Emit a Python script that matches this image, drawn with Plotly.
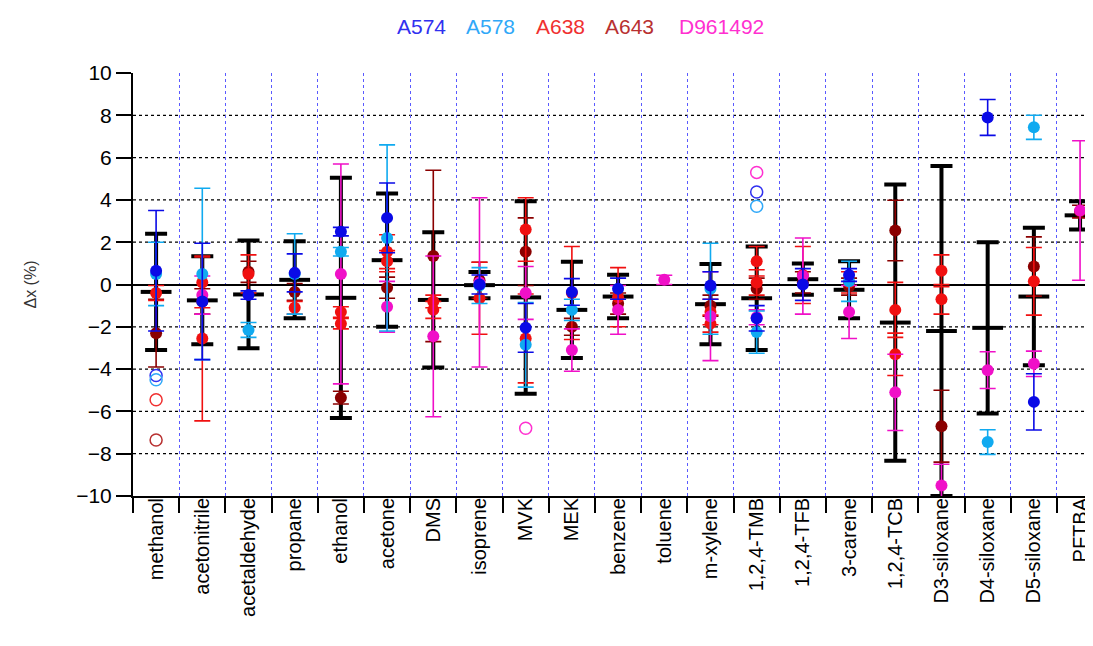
import plotly.graph_objects as go

categories = ["methanol", "acetonitrile", "acetaldehyde", "propane", "ethanol", "acetone",
              "DMS", "isoprene", "MVK", "MEK", "benzene", "toluene", "m-xylene",
              "1,2,4-TMB", "1,2,4-TFB", "3-carene", "1,2,4-TCB", "D3-siloxane",
              "D4-siloxane", "D5-siloxane", "PFTBA"]

N = None
a574_val = [0.65, -0.8, -0.5, 0.55, 2.5, 3.15, N, 0.0, -2.05, -0.35, -0.2, N, -0.05, -1.6, 0.0, 0.45, N, N, 7.9, -5.55, N]
a574_err = [2.85, 2.75, 0.2, 0.9, 0.2, 1.65, N, 0.45, 1.15, 0.63, 0.5, N, 0.65, 0.6, 0.75, 0.3, N, N, 0.85, 1.33, N]

a578_val = [0.5, 0.5, -2.15, 0.5, 1.55, 2.2, N, -0.05, -2.85, -1.2, N, N, -0.2, -2.25, N, 0.15, N, N, -7.45, 7.43, N]
a578_err = [1.5, 4.05, 0.35, 1.9, 0.2, 4.4, N, 0.85, 2.0, 0.5, N, N, 2.15, 1.0, N, 0.95, N, N, 0.58, 0.57, N]

a638_val = [-0.4, -2.55, 0.5, -1.1, -1.3, 1.55, -1.2, -0.65, 2.6, -0.4, -0.6, N, -1.3, 1.1, 0.45, 0.1, -1.2, 0.65, N, 0.15, N]
a638_err = [0.35, 3.9, 0.9, 0.3, 0.25, 0.8, 0.4, 1.7, 1.5, 2.2, 1.4, N, 0.6, 0.7, 1.35, 0.5, 1.3, 0.75, N, 1.6, N]
a638_val2 = [N, 0.1, N, N, -1.85, 1.1, -0.8, N, -2.55, N, N, N, -1.85, 0.1, N, N, -3.3, -0.7, N, N, N]
a638_err2 = [N, 1.2, N, N, 0.25, 0.5, 0.3, N, 2.1, N, N, N, 0.4, 0.6, N, N, 1.0, 0.7, N, N, N]

a643_val = [-2.3, -0.8, 0.6, -0.35, -5.35, -0.15, 1.35, 0.2, 1.55, -2.0, -0.9, N, -1.0, -0.2, 0.1, -0.1, 2.55, -6.7, N, 0.85, 3.45]
a643_err = [1.6, 0.6, 0.5, 0.4, 0.3, 0.5, 4.05, 0.85, 1.6, 0.4, 0.5, N, 0.5, 0.5, 0.5, 0.4, 1.43, 1.7, N, 1.4, 0.3]

d961492_val = [N, -0.5, N, N, 0.5, -1.05, -2.45, 0.1, -0.4, -3.1, -1.2, 0.22, -1.5, -1.55, 0.4, -1.3, -5.1, -9.5, -4.05, -3.75, 3.5]
d961492_err = [N, 0.9, N, N, 5.2, 1.2, 3.8, 4.0, 1.25, 1.0, 1.15, 0.22, 2.1, 0.35, 1.8, 1.25, 1.8, 1.0, 0.87, 0.6, 3.3]

mean_val = [-0.35, -0.75, -0.47, 0.22, -0.63, 1.15, -0.73, -0.03, -0.61, -1.2, -0.57, N, -0.93, -0.65, 0.25, -0.25, -1.8, -2.2, -2.05, -0.57, 3.27]
mean_err = [2.75, 2.08, 2.55, 1.82, 5.68, 3.15, 3.2, 0.62, 4.55, 2.27, 1.03, N, 1.9, 2.45, 0.74, 1.35, 6.53, 7.8, 4.05, 3.25, 0.67]

# outliers (open circles): (category, value)
a574_out = [("methanol", -4.3), ("1,2,4-TMB", 4.37)]
a578_out = [("methanol", -4.5), ("1,2,4-TMB", 3.7)]
a638_out = [("methanol", -5.45)]
a643_out = [("methanol", -7.35)]
d961492_out = [("MVK", -6.8), ("1,2,4-TMB", 5.3)]

y_ticks = [-10, -8, -6, -4, -2, 0, 2, 4, 6, 8, 10]

series_names = ["A574", "A578", "A638", "A643", "D961492"]
colors = {"A574": "#0a0ae6", "A578": "#10aaf0", "A638": "#f01010", "A643": "#8a0000", "D961492": "#f010c8"}
label_colors = {"A574": "#3030f0", "A578": "#30a8f8", "A638": "#f03030", "A643": "#b83030", "D961492": "#ff30d0"}

fig = go.Figure()


def add_series(vals, errs, color, thick=1.6, cap=8, size=12, symbol="circle", line_w=0):
    xs = [c for c, v in zip(categories, vals) if v is not None]
    ys = [v for v in vals if v is not None]
    es = [e for v, e in zip(vals, errs) if v is not None]
    fig.add_trace(go.Scatter(
        x=xs, y=ys, mode="markers",
        marker=dict(color=color, size=size, symbol=symbol, line=dict(color=color, width=line_w)),
        error_y=dict(type="data", array=es, color=color, thickness=thick, width=cap, visible=True),
        showlegend=False, hoverinfo="x+y"))


# black overall bars
add_series(mean_val, mean_err, "black", thick=4, cap=11, size=22, symbol="line-ew", line_w=4)

add_series(a643_val, a643_err, colors["A643"])
add_series(a638_val2, a638_err2, colors["A638"])
add_series(a638_val, a638_err, colors["A638"])
add_series(d961492_val, d961492_err, colors["D961492"])
add_series(a578_val, a578_err, colors["A578"])
add_series(a574_val, a574_err, colors["A574"])

for outs, nm in [(a574_out, "A574"), (a578_out, "A578"), (a638_out, "A638"), (a643_out, "A643"), (d961492_out, "D961492")]:
    fig.add_trace(go.Scatter(
        x=[o[0] for o in outs], y=[o[1] for o in outs], mode="markers",
        marker=dict(symbol="circle-open", size=12, color=label_colors[nm], line=dict(width=1.5)),
        showlegend=False))

# horizontal dotted grid (none at the top edge)
for v in y_ticks:
    if v in (-10, 0, 10):
        continue
    fig.add_shape(type="line", xref="paper", x0=0, x1=1, yref="y", y0=v, y1=v,
                  line=dict(color="black", width=1.3, dash="dot"), layer="below")

legend_x = [0.3005, 0.3729, 0.4458, 0.5177, 0.6125]
for nm, x in zip(series_names, legend_x):
    fig.add_annotation(text=nm, x=x, y=1.109, xref="paper", yref="paper",
                       showarrow=False, xanchor="center", yanchor="middle",
                       font=dict(size=21, color=label_colors[nm]))

fig.update_layout(
    width=1085, height=638,
    margin=dict(l=125, r=0, t=65, b=150),
    paper_bgcolor="white", plot_bgcolor="white",
    font=dict(family="Liberation Sans, Arial, sans-serif", color="black"),
)
fig.update_xaxes(
    type="category", categoryorder="array", categoryarray=categories,
    range=[-0.5, 20.28], tickson="boundaries", ticks="outside", ticklen=15,
    tickwidth=1.5, tickcolor="black", tickangle=-90, tickfont=dict(size=20),
    ticklabelstandoff=-8, automargin=False,
    showgrid=True, gridcolor="#5a5aff", griddash="dot", gridwidth=1,
    showline=True, linecolor="black", linewidth=2, zeroline=False,
)
fig.update_yaxes(
    range=[-10, 10], tickvals=y_ticks, ticks="outside", ticklen=15, tickwidth=1.5,
    tickcolor="black", tickfont=dict(size=21), automargin=False,
    showgrid=False,
    zeroline=True, zerolinecolor="black", zerolinewidth=1.5,
    showline=True, linecolor="black", linewidth=2,
    title=dict(text="Δx (%)", font=dict(size=16, color="#333333"), standoff=36),
)

fig.write_html("out.html")
